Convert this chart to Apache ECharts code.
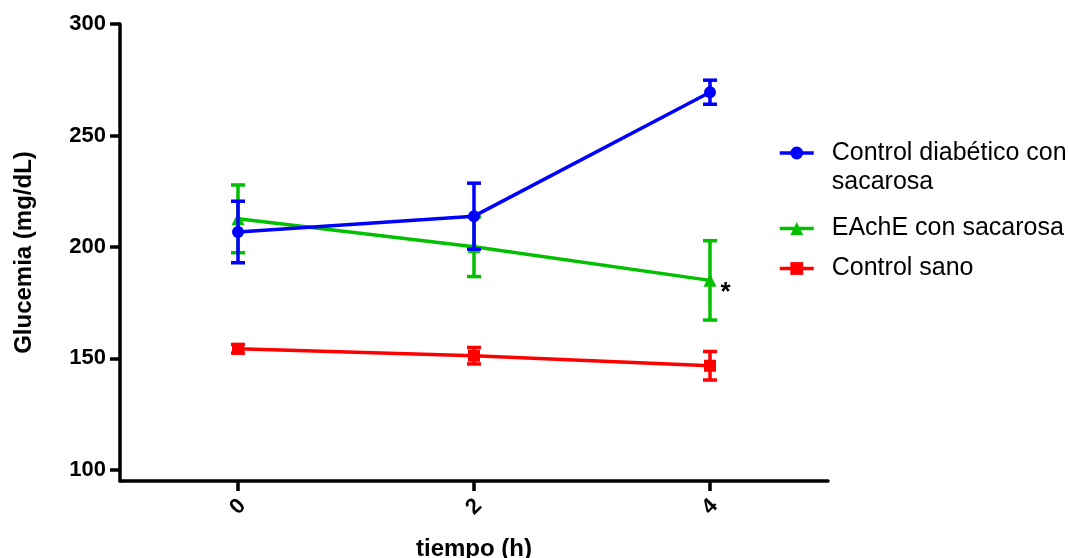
<!DOCTYPE html>
<html><head><meta charset="utf-8">
<script src="https://cdn.jsdelivr.net/npm/echarts@6/dist/echarts.min.js"></script>
<style>html,body{margin:0;padding:0;background:#fff}#c{width:1068px;height:558px}</style>
</head><body><div id="c"></div>
<script>
const times = [0, 2, 4];
const xTicks = [0, 2, 4];
const yTicks = [100, 150, 200, 250, 300];
const seriesNames = ['Control diabético con sacarosa', 'EAchE con sacarosa', 'Control sano'];
const legendLabels = ['Control diabético con\nsacarosa', 'EAchE con sacarosa', 'Control sano'];
const diabMean = [206.7, 213.8, 269.4];
const diabErr = [13.8, 14.8, 5.4];
const eacheMean = [212.6, 200.1, 185.0];
const eacheErr = [15.2, 13.4, 17.8];
const sanoMean = [154.3, 151.2, 146.7];
const sanoErr = [1.9, 3.7, 6.4];
const eacheMarks = ['', '', '*'];

const FONT = "'Liberation Sans', Arial, sans-serif";
const colors = ['#0000FF', '#00C000', '#FF0000'];
const symbols = ['circle', 'triangle', 'rect'];
const means = [diabMean, eacheMean, sanoMean];
const errs = [diabErr, eacheErr, sanoErr];
const zBase = [5, 3, 1];
const LW = 3.5;

function errSeries(k) {
  const color = colors[k];
  return {
    type: 'custom', name: seriesNames[k] + ' (error)', z: zBase[k],
    data: times.map((t, i) => [t, means[k][i] - errs[k][i], means[k][i] + errs[k][i]]),
    renderItem: function (params, api) {
      const x = api.value(0);
      const top = api.coord([x, api.value(2)]);
      const bot = api.coord([x, api.value(1)]);
      const hw = 7;
      const st = { stroke: color, lineWidth: LW };
      return { type: 'group', children: [
        { type: 'line', shape: { x1: top[0], y1: top[1], x2: bot[0], y2: bot[1] }, style: st },
        { type: 'line', shape: { x1: top[0] - hw, y1: top[1], x2: top[0] + hw, y2: top[1] }, style: st },
        { type: 'line', shape: { x1: bot[0] - hw, y1: bot[1], x2: bot[0] + hw, y2: bot[1] }, style: st }
      ]};
    },
    silent: true
  };
}

function lineSeries(k) {
  return {
    type: 'line', name: seriesNames[k], z: zBase[k] + 1,
    symbol: symbols[k], symbolSize: k === 1 ? 13 : 12,
    color: colors[k],
    lineStyle: { color: colors[k], width: LW },
    itemStyle: { color: colors[k] },
    data: times.map((t, i) => {
      const item = { value: [t, means[k][i]] };
      if (k === 1 && eacheMarks[i]) {
        item.label = { show: true, formatter: eacheMarks[i], position: 'right', distance: 4,
          offset: [0, 12], color: '#000', fontSize: 26, fontWeight: 'bold', fontFamily: FONT };
      }
      return item;
    })
  };
}

const legendCommon = {
  orient: 'vertical', left: 778, padding: 0, itemWidth: 34, itemHeight: 16, itemGap: 11,
  lineStyle: { width: LW },
  textStyle: { fontSize: 25, lineHeight: 29, color: '#000', fontFamily: FONT, padding: [0, 0, 0, 13] }
};

const chart = echarts.init(document.getElementById('c'));
chart.setOption({
  animation: false,
  backgroundColor: '#fff',
  textStyle: { fontFamily: FONT },
  grid: { left: 120, right: 240, top: 24, bottom: 77, outerBoundsMode: 'none', containLabel: false },
  legend: [
    Object.assign({}, legendCommon, {
      top: 109.5,
      data: [seriesNames[0]],
      formatter: function (name) { return ' \n' + legendLabels[seriesNames.indexOf(name)]; }
    }),
    Object.assign({}, legendCommon, {
      top: 214,
      data: [seriesNames[1], seriesNames[2]],
      formatter: function (name) { return legendLabels[seriesNames.indexOf(name)]; }
    })
  ],
  xAxis: {
    type: 'value', min: -1, max: 5,
    name: 'tiempo (h)', nameLocation: 'middle', nameGap: 56,
    nameTextStyle: { fontSize: 24, fontWeight: 'bold', color: '#000', fontFamily: FONT },
    axisLine: { onZero: false, lineStyle: { color: '#000', width: LW } },
    axisTick: { customValues: xTicks, length: 10, lineStyle: { color: '#000', width: LW } },
    axisLabel: { customValues: xTicks, rotate: 45, align: 'center', verticalAlign: 'middle', margin: 26,
      fontSize: 22, fontWeight: 'bold', color: '#000', fontFamily: FONT },
    splitLine: { show: false }
  },
  yAxis: {
    type: 'value', min: 95, max: 300,
    name: 'Glucemia (mg/dL)', nameLocation: 'middle', nameGap: 84,
    nameTextStyle: { fontSize: 24, fontWeight: 'bold', color: '#000', fontFamily: FONT },
    axisLine: { show: true, onZero: false, lineStyle: { color: '#000', width: LW } },
    axisTick: { show: true, customValues: yTicks, length: 10, lineStyle: { color: '#000', width: LW } },
    axisLabel: { customValues: yTicks, margin: 14, fontSize: 22, fontWeight: 'bold', color: '#000', fontFamily: FONT },
    splitLine: { show: false }
  },
  series: [errSeries(2), lineSeries(2), errSeries(1), lineSeries(1), errSeries(0), lineSeries(0)]
});
</script></body></html>
